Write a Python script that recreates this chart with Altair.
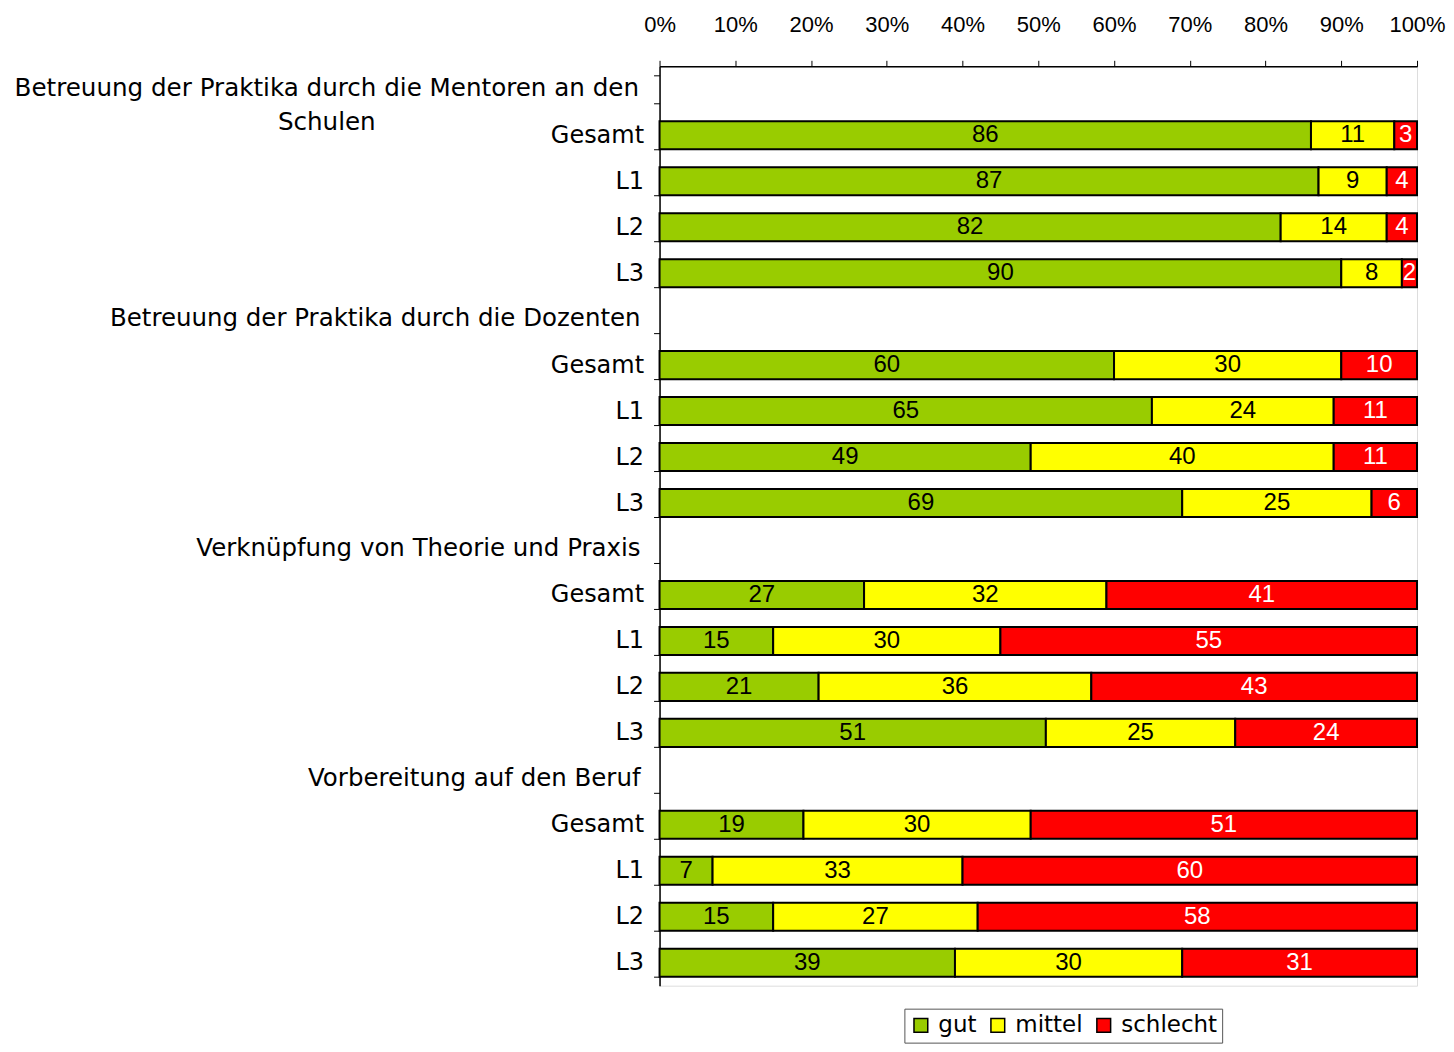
import altair as alt
import pandas as pd

groups = [
    "Betreuung der Praktika durch die Mentoren an den~Schulen",
    "Betreuung der Praktika durch die Dozenten",
    "Verknüpfung von Theorie und Praxis",
    "Vorbereitung auf den Beruf",
]
subgroups = ["Gesamt", "L1", "L2", "L3"]
categories = ["gut", "mittel", "schlecht"]
colors = ["#99CC00", "#FFFF00", "#FF0000"]
text_colors = ["black", "black", "white"]

gut = [86, 87, 82, 90, 60, 65, 49, 69, 27, 15, 21, 51, 19, 7, 15, 39]
mittel = [11, 9, 14, 8, 30, 24, 40, 25, 32, 30, 36, 25, 30, 33, 27, 30]
schlecht = [3, 4, 4, 2, 10, 11, 11, 6, 41, 55, 43, 24, 51, 60, 58, 31]
x_ticks = [0, 10, 20, 30, 40, 50, 60, 70, 80, 90, 100]

series = [gut, mittel, schlecht]

row_ids = []
rows = []
headers = []
for gi, g in enumerate(groups):
    hid = f"{gi}h|{g}"
    row_ids.append(hid)
    headers.append({"row": hid, "label": g, "first": 1 if gi == 0 else 0})
    for si, s in enumerate(subgroups):
        rid = f"{gi}{si}|{s}"
        row_ids.append(rid)
        idx = gi * 4 + si
        for ci, c in enumerate(categories):
            rows.append({"row": rid, "cat": c, "order": ci,
                         "value": series[ci][idx], "tcol": text_colors[ci]})

df = pd.DataFrame(rows)
hdf = pd.DataFrame(headers)

font = "DejaVu Sans"
num_font = "Liberation Sans"

y_scale = alt.Scale(domain=row_ids, paddingInner=0.39, paddingOuter=0.195)

y_enc = alt.Y(
    "row:N",
    scale=y_scale,
    axis=alt.Axis(
        title=None,
        labelExpr="(!isValid(datum.value) || substring(datum.value, 1, 2) == 'h') ? '' : substring(datum.value, 3)",
        labelFont=font,
        labelFontSize=24,
        labelColor="black",
        labelPadding=10,
        labelLimit=700,
        tickBand="extent",
        tickSize=6,
        tickColor="black",
        domainColor="black",
        domainWidth=1.5,
    ),
)

base = alt.Chart(df).transform_stack(
    stack="value", groupby=["row"], as_=["x0", "x1"],
    sort=[alt.SortField("order", order="ascending")],
).transform_calculate(mid="(datum.x0 + datum.x1) / 2")

bars = base.mark_bar(stroke="black", strokeWidth=2).encode(
    x=alt.X(
        "x0:Q",
        scale=alt.Scale(domain=[0, 100], nice=False),
        axis=alt.Axis(
            orient="top",
            title=None,
            values=x_ticks,
            labelExpr="datum.value + '%'",
            labelFont=num_font,
            labelFontSize=22,
            labelColor="black",
            labelPadding=24,
            labelOverlap=False,
            labelFlush=False,
            tickSize=6,
            tickColor="black",
            domainColor="black",
            domainWidth=1.5,
            grid=False,
        ),
    ),
    x2="x1:Q",
    y=y_enc,
    color=alt.Color(
        "cat:N",
        scale=alt.Scale(domain=categories, range=colors),
        legend=alt.Legend(
            title=None,
            orient="none",
            legendX=245,
            legendY=943,
            direction="horizontal",
            symbolType="square",
            symbolSize=190,
            symbolStrokeColor="black",
            symbolStrokeWidth=1.5,
            labelFont=font,
            labelFontSize=23,
            labelColor="black",
            columnPadding=9,
            labelOffset=6,
            strokeColor="#555555",
            padding=5,
        ),
    ),
    order=alt.Order("order:Q"),
)

labels = base.mark_text(font=num_font, fontSize=24, baseline="middle").encode(
    x="mid:Q",
    y=alt.Y("row:N", scale=alt.Scale(domain=row_ids)),
    text="value:Q",
    color=alt.Color("tcol:N", scale=None),
)

hbase = alt.Chart(hdf)
head_first = hbase.transform_filter("datum.first == 1").mark_text(
    font=font, fontSize=24.6, align="center", baseline="middle",
    lineBreak="~", lineHeight=34, color="black",
).encode(
    x=alt.value(-333),
    y=alt.Y("row:N", scale=alt.Scale(domain=row_ids)),
    text="label:N",
)
head_rest = hbase.transform_filter("datum.first == 0").mark_text(
    font=font, fontSize=24.5, align="right", baseline="middle", color="black",
).encode(
    x=alt.value(-19),
    y=alt.Y("row:N", scale=alt.Scale(domain=row_ids)),
    text="label:N",
)

chart = alt.layer(bars, labels, head_first, head_rest).properties(
    width=758, height=920,
    padding={"left": 6, "top": 5, "right": 0, "bottom": 0},
).configure_view(
    stroke="#999999", strokeWidth=2,
).configure(background="white")

chart.save("out.html", embed_options={"renderer": "svg", "actions": False})
